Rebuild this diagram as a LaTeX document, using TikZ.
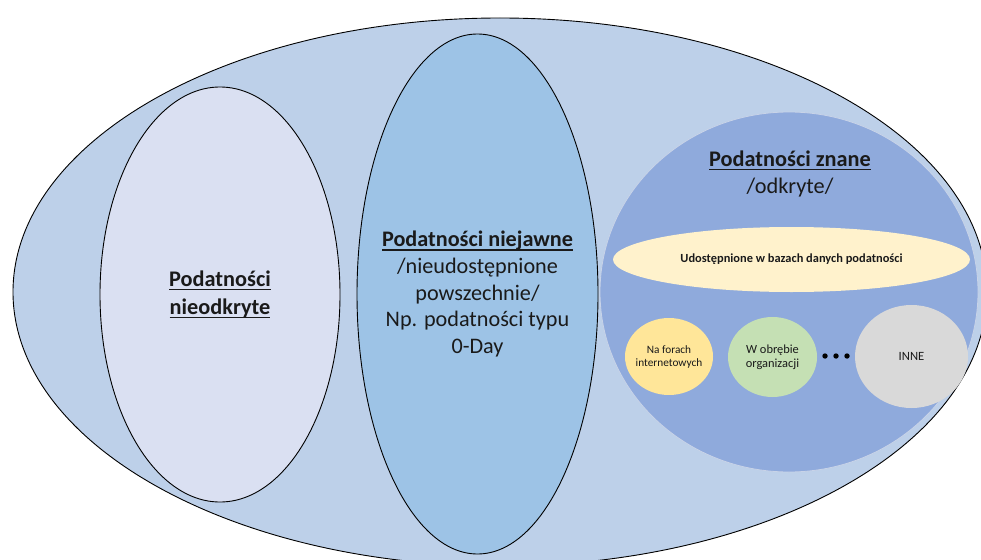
\documentclass[tikz,border=0pt]{standalone}
\usepackage{fontspec}
\setmainfont{Carlito}
\usetikzlibrary{shapes.geometric}

\definecolor{outerfill}{HTML}{BDD0E9}
\definecolor{leftfill}{HTML}{DAE0F2}
\definecolor{midfill}{HTML}{9DC3E6}
\definecolor{knownfill}{HTML}{8FAADC}
\definecolor{knownrim}{HTML}{C8D3E8}
\definecolor{dbfill}{HTML}{FFF2CC}
\definecolor{forumfill}{HTML}{FFE699}
\definecolor{orgfill}{HTML}{C5E0B4}
\definecolor{otherfill}{HTML}{D9D9D9}
\definecolor{ink}{HTML}{1A1A1A}

% thick underline for the headings
\newcommand\ulbold[1]{\leavevmode\setbox0\hbox{#1}\rlap{\rule[-3.8pt]{\wd0}{1.7pt}}\box0}

\begin{document}
\begin{tikzpicture}[x=1pt,y=-1pt,
  blob/.style={ellipse, inner sep=0pt, outer sep=0pt},
  rim/.style={draw=black, line width=0.9pt},
  label/.style={inner sep=0pt, text=ink, align=center},
  dotmark/.style={circle, fill=black, inner sep=0pt, minimum size=5.4pt}]
\useasboundingbox (0,0) rectangle (981,559);
\clip (0,0) rectangle (981,559);

% all vulnerabilities
\node[blob, rim, fill=outerfill, minimum width=974pt, minimum height=548pt] (all) at (500,292) {};

% undiscovered
\node[blob, rim, fill=leftfill, minimum width=240pt, minimum height=415pt] (undiscovered) at (220,294.5) {};
\node[label, font=\bfseries\fontsize{22.3}{28}\selectfont] (undiscoveredtext) at (undiscovered.center)
      {\ulbold{Podatności}\\\ulbold{nieodkryte}};

% undisclosed
\node[blob, rim, fill=midfill, minimum width=241pt, minimum height=520pt] (undisclosed) at (477.5,294) {};
\node[label, font=\fontsize{22.2}{26.6}\selectfont] (undisclosedtext) at (undisclosed.center)
      {\textbf{\ulbold{Podatności niejawne}}\\/nieudostępnione\\powszechnie/\\Np. podatności typu\\0-Day};

% known
\node[blob, draw=knownrim, line width=0.8pt, fill=knownfill, minimum width=378pt, minimum height=360pt] (known) at (789,292) {};
\node[label, font=\fontsize{22.3}{27}\selectfont] (knowntitle) at (790,174)
      {\textbf{\ulbold{Podatności znane}}\\/odkryte/};

\node[blob, fill=dbfill, minimum width=357pt, minimum height=65pt] (db) at (791.5,259.5) {};
\node[label, font=\bfseries\fontsize{12.4}{14}\selectfont] (dbtext) at (db.center)
      {Udostępnione w bazach danych podatności};

\node[blob, fill=forumfill, minimum width=88pt, minimum height=77pt] (forum) at (669,356.5) {};
\node[label, font=\fontsize{11.3}{13}\selectfont] (forumtext) at (forum.center)
      {Na forach\\internetowych};

\node[blob, fill=orgfill, minimum width=89pt, minimum height=80pt] (org) at (772.5,357) {};
\node[label, font=\fontsize{12.4}{14}\selectfont] (orgtext) at (org.center)
      {W obrębie\\organizacji};

\node[dotmark] (dot1) at (825,356) {};
\node[dotmark] (dot2) at (836,356) {};
\node[dotmark] (dot3) at (847,356) {};

\node[blob, fill=otherfill, minimum width=113pt, minimum height=103pt] (other) at (911.5,356.5) {};
\node[label, font=\fontsize{12.6}{14}\selectfont] (othertext) at (other.center) {INNE};
\end{tikzpicture}
\end{document}
